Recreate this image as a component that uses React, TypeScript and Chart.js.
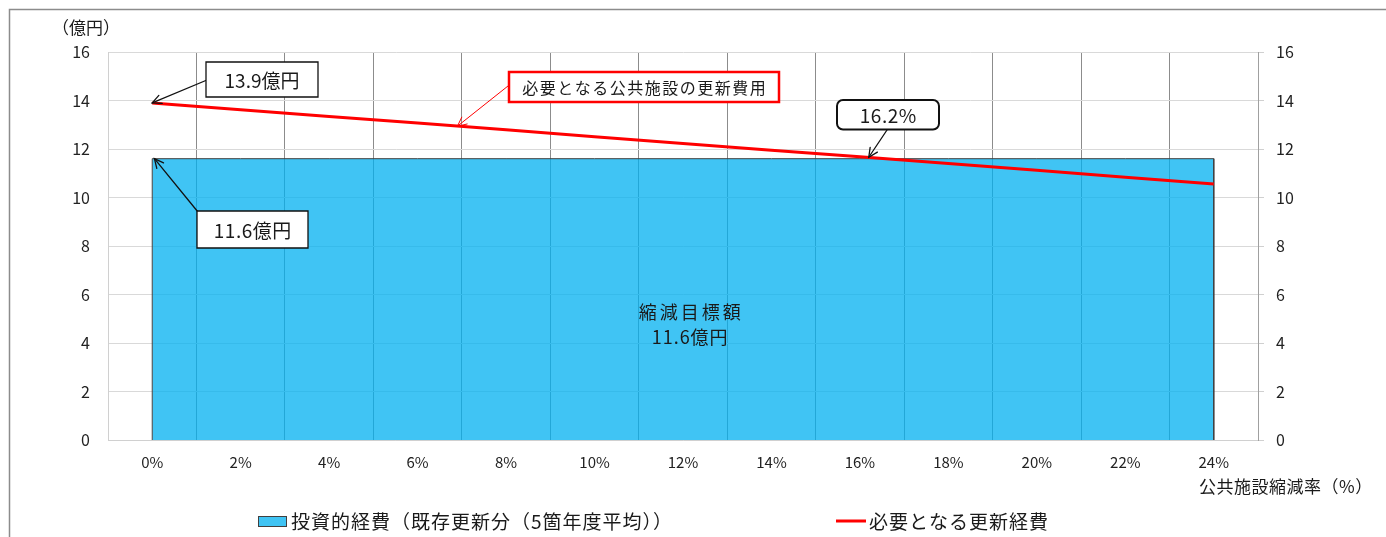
import React, { useEffect, useRef } from "react";
import { Chart, registerables } from "chart.js";

Chart.register(...registerables);

const FONT = '"Noto Sans CJK JP", "Noto Sans", sans-serif';

// ---- data ----
const reductionRates = [0, 2, 4, 6, 8, 10, 12, 14, 16, 18, 20, 22, 24];
const investmentCost = [11.6, 11.6, 11.6, 11.6, 11.6, 11.6, 11.6, 11.6, 11.6, 11.6, 11.6, 11.6, 11.6];
const requiredCost = [13.9, 13.62, 13.34, 13.07, 12.79, 12.51, 12.23, 11.95, 11.68, 11.4, 11.12, 10.84, 10.56];
const yTickValues = [0, 2, 4, 6, 8, 10, 12, 14, 16];
const seriesNames = ["投資的経費（既存更新分（5箇年度平均））", "必要となる更新経費"];
const yAxisTitle = "（億円）";
const xAxisTitle = "公共施設縮減率（%）";
const centerLabel = ["縮減目標額", "11.6億円"];
const calloutTexts = ["13.9億円", "必要となる公共施設の更新費用", "16.2%", "11.6億円"];
const crossoverRate = 16.2;

const AREA_FILL = "rgba(0,176,240,0.75)";
const LINE_RED = "#FF0000";

function setSpacing(ctx: any, px: number) {
  if ("letterSpacing" in ctx) ctx.letterSpacing = `${px}px`;
}

function drawArrow(ctx: CanvasRenderingContext2D, x1: number, y1: number, x2: number, y2: number, color: string, width: number) {
  ctx.save();
  ctx.strokeStyle = color;
  ctx.lineWidth = width;
  ctx.lineCap = "round";
  ctx.beginPath();
  ctx.moveTo(x1, y1);
  ctx.lineTo(x2, y2);
  ctx.stroke();
  const ang = Math.atan2(y2 - y1, x2 - x1);
  const L = 10;
  const a = 0.45;
  ctx.beginPath();
  ctx.moveTo(x2 - L * Math.cos(ang - a), y2 - L * Math.sin(ang - a));
  ctx.lineTo(x2, y2);
  ctx.lineTo(x2 - L * Math.cos(ang + a), y2 - L * Math.sin(ang + a));
  ctx.stroke();
  ctx.restore();
}

function roundRect(ctx: CanvasRenderingContext2D, x: number, y: number, w: number, h: number, r: number) {
  ctx.beginPath();
  ctx.moveTo(x + r, y);
  ctx.lineTo(x + w - r, y);
  ctx.arcTo(x + w, y, x + w, y + r, r);
  ctx.lineTo(x + w, y + h - r);
  ctx.arcTo(x + w, y + h, x + w - r, y + h, r);
  ctx.lineTo(x + r, y + h);
  ctx.arcTo(x, y + h, x, y + h - r, r);
  ctx.lineTo(x, y + r);
  ctx.arcTo(x, y, x + r, y, r);
  ctx.closePath();
}

function drawCenteredText(ctx: CanvasRenderingContext2D, text: string, cx: number, cy: number, size: number, spacing: number) {
  ctx.save();
  ctx.fillStyle = "#1a1a1a";
  ctx.font = `${size}px ${FONT}`;
  setSpacing(ctx, spacing);
  ctx.textAlign = "left";
  ctx.textBaseline = "middle";
  const w = ctx.measureText(text).width - spacing;
  ctx.fillText(text, cx - w / 2, cy);
  ctx.restore();
}

function drawBox(
  ctx: CanvasRenderingContext2D,
  b: { x: number; y: number; w: number; h: number; r: number; border: string; bw: number; text: string; size: number; spacing: number }
) {
  ctx.save();
  roundRect(ctx, b.x, b.y, b.w, b.h, b.r);
  ctx.fillStyle = "#fff";
  ctx.fill();
  ctx.strokeStyle = b.border;
  ctx.lineWidth = b.bw;
  ctx.stroke();
  ctx.restore();
  drawCenteredText(ctx, b.text, b.x + b.w / 2, b.y + b.h / 2 + 1, b.size, b.spacing);
}

export default function App() {
  const ref = useRef<HTMLCanvasElement>(null);

  useEffect(() => {
    const canvas = ref.current!;
    const last = reductionRates.length - 1;
    const areaData = [
      { x: reductionRates[0], y: 0 },
      ...reductionRates.map((r, i) => ({ x: r, y: investmentCost[i] })),
      { x: reductionRates[last], y: 0 },
    ];
    const lineData = reductionRates.map((r, i) => ({ x: r, y: requiredCost[i] }));

    const overlay = {
      id: "overlay",
      afterDraw(chart: any) {
        const ctx: CanvasRenderingContext2D = chart.ctx;
        const xs = chart.scales.x;
        const ys = chart.scales.y;
        const px = (v: number) => xs.getPixelForValue(v);
        const py = (v: number) => ys.getPixelForValue(v);

        // outer frame
        ctx.save();
        ctx.strokeStyle = "#8c8c8c";
        ctx.lineWidth = 1.5;
        ctx.beginPath();
        ctx.moveTo(9.5, 540);
        ctx.lineTo(9.5, 9.5);
        ctx.lineTo(1390, 9.5);
        ctx.stroke();
        ctx.restore();

        // axis titles
        drawCenteredText(ctx, yAxisTitle, 86, 28, 17, 0);
        ctx.save();
        ctx.fillStyle = "#1a1a1a";
        ctx.font = `17px ${FONT}`;
        setSpacing(ctx, 0.5);
        ctx.textBaseline = "middle";
        ctx.textAlign = "left";
        ctx.fillText(xAxisTitle, 1199, 487);
        ctx.restore();

        // center label
        const cx = px(12.15);
        drawCenteredText(ctx, centerLabel[0], cx, py(5.29), 18, 3);
        drawCenteredText(ctx, centerLabel[1], cx, py(4.26), 18, 1);

        // callout 1: 13.9
        drawArrow(ctx, 207, 80, px(reductionRates[0]), py(requiredCost[0]), "#111", 1.3);
        drawBox(ctx, { x: 206, y: 62, w: 112, h: 35, r: 0, border: "#111", bw: 1.3, text: calloutTexts[0], size: 19, spacing: 0 });

        // callout 2: red label
        drawArrow(ctx, 508, 86, px(6.9), py(12.94), LINE_RED, 1);
        drawBox(ctx, { x: 509, y: 72, w: 270, h: 30, r: 0, border: LINE_RED, bw: 2.5, text: calloutTexts[1], size: 16, spacing: 1.5 });

        // callout 3: 16.2%
        drawArrow(ctx, 887, 130, px(crossoverRate), py(11.66), "#111", 1.3);
        drawBox(ctx, { x: 837, y: 100, w: 102, h: 29.5, r: 6, border: "#111", bw: 2, text: calloutTexts[2], size: 19, spacing: 0.5 });

        // callout 4: 11.6
        drawArrow(ctx, 198, 212, px(0.05), py(investmentCost[0]), "#111", 1.3);
        drawBox(ctx, { x: 197, y: 211, w: 111, h: 37, r: 0, border: "#111", bw: 1.3, text: calloutTexts[3], size: 19, spacing: 0.5 });

        // legend
        ctx.save();
        ctx.fillStyle = AREA_FILL;
        ctx.fillRect(258, 516, 29, 11);
        ctx.strokeStyle = "#404040";
        ctx.lineWidth = 1;
        ctx.strokeRect(258.5, 516.5, 28, 10);
        ctx.fillStyle = "#1a1a1a";
        ctx.font = `19px ${FONT}`;
        setSpacing(ctx, 1);
        ctx.textAlign = "left";
        ctx.textBaseline = "middle";
        ctx.fillText(seriesNames[0], 291, 522);
        ctx.strokeStyle = LINE_RED;
        ctx.lineWidth = 3;
        ctx.beginPath();
        ctx.moveTo(836, 521);
        ctx.lineTo(866, 521);
        ctx.stroke();
        ctx.fillText(seriesNames[1], 869, 522);
        ctx.restore();
      },
    };

    const chart = new Chart(canvas, {
      type: "line",
      data: {
        datasets: [
          {
            label: seriesNames[1],
            data: lineData,
            borderColor: LINE_RED,
            borderWidth: 3,
            pointRadius: 0,
            fill: false,
            tension: 0,
          },
          {
            label: seriesNames[0],
            data: areaData,
            borderColor: "#404040",
            borderWidth: 1,
            backgroundColor: AREA_FILL,
            pointRadius: 0,
            fill: "origin",
            tension: 0,
          },
        ],
      },
      options: {
        responsive: false,
        animation: false,
        devicePixelRatio: 1,
        layout: { padding: { top: 52, bottom: 57, left: 0, right: 0 } },
        plugins: { legend: { display: false }, tooltip: { enabled: false } },
        scales: {
          x: {
            type: "linear",
            min: -1,
            max: 25,
            afterFit: (s: any) => {
              s.height = 40;
            },
            ticks: {
              stepSize: 1,
              autoSkip: false,
              maxRotation: 0,
              padding: 13,
              color: "#222",
              font: { family: FONT, size: 15 },
              callback: (v: any) => (reductionRates.includes(v) ? `${v}%` : ""),
            },
            grid: {
              drawTicks: false,
              lineWidth: 1,
              color: (c: any) => {
                const v = c.tick ? c.tick.value : 0;
                if (v === -1) return "#d0d0d0";
                if (v === 25) return "#a0a0a0";
                return Math.abs(v % 2) === 1 ? "#8c8c8c" : "rgba(0,0,0,0)";
              },
            },
            border: { color: "#d0d0d0" },
          },
          y: {
            position: "left",
            min: 0,
            max: 16,
            afterFit: (s: any) => {
              s.width = 108;
            },
            afterBuildTicks: (s: any) => {
              s.ticks = yTickValues.map((v) => ({ value: v }));
            },
            ticks: { padding: 18, color: "#222", font: { family: FONT, size: 16 } },
            grid: { color: "#d9d9d9", drawTicks: false, lineWidth: 1 },
            border: { color: "#d0d0d0" },
          },
          y2: {
            position: "right",
            min: 0,
            max: 16,
            afterFit: (s: any) => {
              s.width = 128;
            },
            afterBuildTicks: (s: any) => {
              s.ticks = yTickValues.map((v) => ({ value: v }));
            },
            ticks: { padding: 12, color: "#222", font: { family: FONT, size: 16 } },
            grid: { drawOnChartArea: false, drawTicks: true, tickLength: 6, color: "#d0d0d0" },
            border: { color: "#a0a0a0" },
          },
        },
      },
      plugins: [overlay],
    } as any);

    return () => chart.destroy();
  }, []);

  return (
    <div style={{ position: "fixed", left: 0, top: 0, width: 1386, height: 537, background: "#fff" }}>
      <canvas ref={ref} width={1386} height={537} style={{ display: "block", width: 1386, height: 537 }} />
    </div>
  );
}
